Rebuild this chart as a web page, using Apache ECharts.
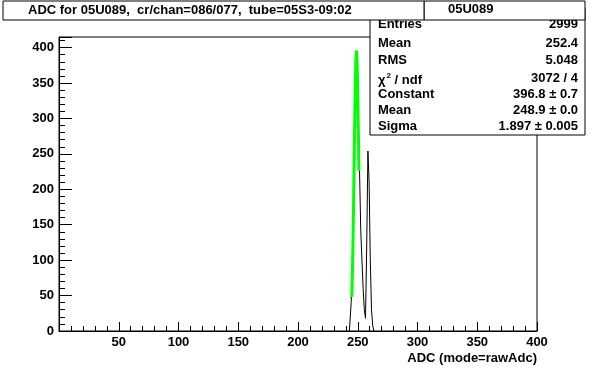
<!DOCTYPE html>
<html>
<head>
<meta charset="utf-8">
<script src="https://cdn.jsdelivr.net/npm/echarts@6/dist/echarts.min.js"></script>
<style>
  html, body { margin: 0; padding: 0; background: #fff; }
  #chart { width: 596px; height: 368px; }
</style>
</head>
<body>
<div id="chart"></div>
<script>
// histogram bins (ADC, width 1)
const binCenters = [243, 244, 245, 246, 247, 248, 249, 250, 251, 252, 253,
                    254, 255, 256, 257, 258, 259, 260, 261, 262, 263, 264];
const binCounts  = [0, 14, 40, 90, 170, 300, 390, 360, 290, 226, 143,
                    101, 60, 30, 18, 120, 254, 210, 100, 30, 8, 0];

// gaussian fit curve as drawn (green)
const fitX = [245.0, 245.5, 246.0, 246.5, 247.0, 247.5, 248.0, 248.5, 249.0, 249.5, 250.0, 250.5, 251.0];
const fitY = [48, 80, 124, 178, 240, 302, 354, 386, 396, 377, 334, 282, 226];

const titleText = 'ADC for 05U089,  cr/chan=086/077,  tube=05S3-09:02';
const statsName = '05U089';
const statsLabels = ['Entries', 'Mean', 'RMS', 'chi', 'Constant', 'Mean', 'Sigma'];
const statsValues = ['2999', '252.4', '5.048', '3072 / 4', '396.8 ± 0.7', '248.9 ± 0.0', '1.897 ± 0.005'];

const FONT = '"Liberation Sans", Arial, Helvetica, sans-serif';

const chart = echarts.init(document.getElementById('chart'), null, { renderer: 'canvas' });

const statsRowY = [25, 44, 61, 79, 95, 111, 127];
const statsGraphics = [];
statsLabels.forEach((lab, i) => {
    const isChi = lab === 'chi';
    statsGraphics.push({
        type: 'text', left: 378, top: statsRowY[i] - 7, z: 11,
        style: isChi ? {
            text: '{c|χ}{s|2}{c| / ndf}',
            rich: {
                c: { font: 'bold 13px ' + FONT, fill: '#000' },
                s: { font: 'bold 8px ' + FONT, fill: '#000', padding: [0, 0, 8, 1] }
            }
        } : { text: lab, font: 'bold 13px ' + FONT, fill: '#000' }
    });
    statsGraphics.push({
        type: 'text', right: 596 - 578, top: statsRowY[i] - 7, z: 11,
        style: { text: statsValues[i], font: 'bold 13px ' + FONT, fill: '#000', textAlign: 'right' }
    });
});

chart.setOption({
    animation: false,
    backgroundColor: '#fff',
    grid: { left: 59, right: 59, top: 37, bottom: 37, show: true, borderColor: '#000', borderWidth: 1, backgroundColor: 'transparent' },
    xAxis: {
        type: 'value', min: 0, max: 400, interval: 50,
        axisLine: { show: true, lineStyle: { color: '#000', width: 1 } },
        axisTick: { show: true, inside: true, length: 9, lineStyle: { color: '#000' } },
        minorTick: { show: true, splitNumber: 5, length: 5, lineStyle: { color: '#000' } },
        splitLine: { show: false },
        axisLabel: { color: '#000', fontFamily: FONT, fontWeight: 'bold', fontSize: 13, margin: 5, showMinLabel: false },
    },
    yAxis: [{
        type: 'value', min: 0, max: 415, interval: 50,
        axisLine: { show: true, lineStyle: { color: '#000', width: 1 } },
        axisTick: { show: true, inside: true, length: 13, lineStyle: { color: '#000' } },
        splitLine: { show: false },
        axisLabel: {
            color: '#000', fontFamily: FONT, fontWeight: 'bold', fontSize: 13, margin: 5,
            formatter: v => (v % 50 === 0 ? String(v) : '')
        },
    }, {
        type: 'value', min: 0, max: 415, interval: 10, position: 'left',
        axisLine: { show: false },
        axisTick: { show: true, inside: true, length: 6, lineStyle: { color: '#000' } },
        splitLine: { show: false },
        axisLabel: { show: false },
    }],
    series: [{
        type: 'line',
        step: 'middle',
        data: binCenters.map((x, i) => [x, binCounts[i]]),
        showSymbol: false,
        lineStyle: { color: '#000', width: 1 },
        z: 2,
    }, {
        type: 'line',
        data: fitX.map((x, i) => [x, fitY[i]]),
        showSymbol: false,
        lineStyle: { color: '#00ff00', width: 3 },
        z: 3,
    }],
    graphic: [
        // stats box
        { type: 'rect', shape: { x: 370, y: 8, width: 215, height: 127 }, z: 10,
          style: { fill: '#fff', stroke: '#000', lineWidth: 1 } },
        ...statsGraphics,
        // stats header
        { type: 'rect', shape: { x: 424, y: 1, width: 161, height: 19 }, z: 12,
          style: { fill: '#fff', stroke: '#000', lineWidth: 1 } },
        { type: 'text', left: 448, top: 3, z: 13,
          style: { text: statsName, font: 'bold 13px ' + FONT, fill: '#000' } },
        // title box
        { type: 'rect', shape: { x: 3, y: 1, width: 421, height: 19 }, z: 12,
          style: { fill: '#fff', stroke: '#000', lineWidth: 1 } },
        { type: 'text', left: 28, top: 4, z: 13,
          style: { text: titleText, font: 'bold 13px ' + FONT, fill: '#000' } },
        // x axis title
        { type: 'text', right: 59, top: 352, z: 13,
          style: { text: 'ADC (mode=rawAdc)', font: 'bold 13px ' + FONT, fill: '#000', textAlign: 'right' } },
    ],
});
</script>
</body>
</html>
